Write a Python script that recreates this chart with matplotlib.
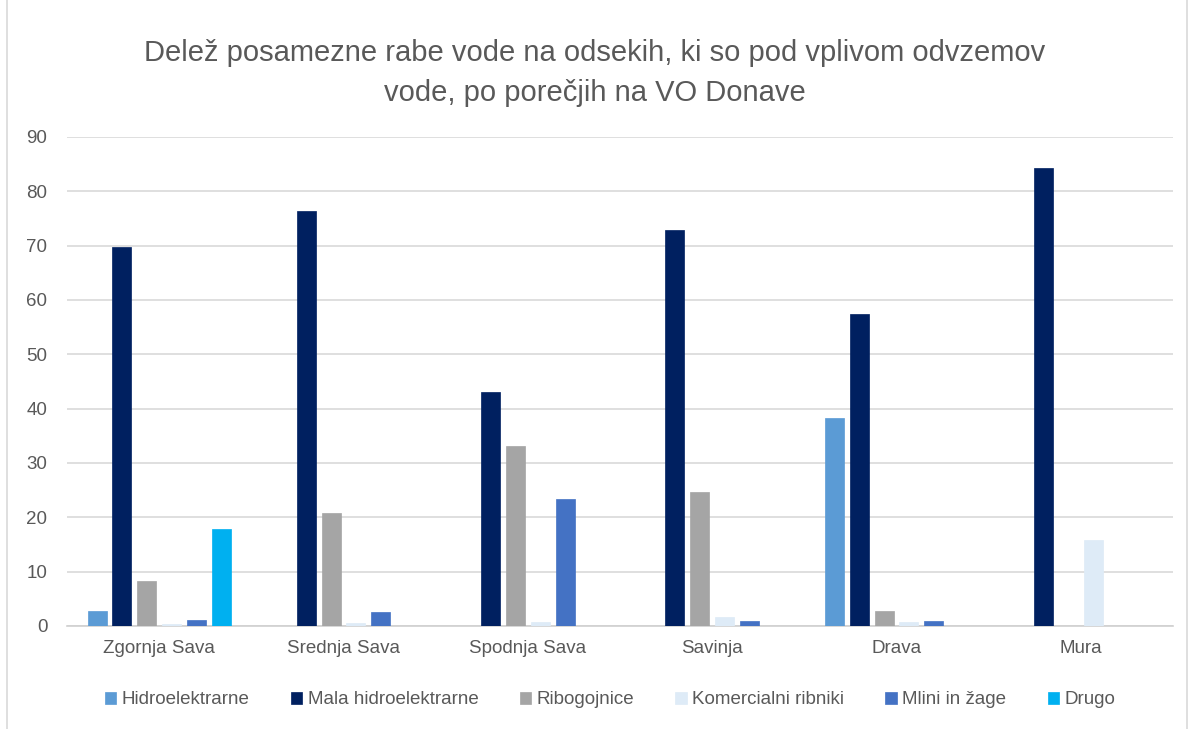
import numpy as np
import matplotlib
matplotlib.use("Agg")
import matplotlib.pyplot as plt
from matplotlib.patches import Rectangle

plt.rcParams['font.family'] = ['Liberation Sans', 'DejaVu Sans']

regions = ["Zgornja Sava", "Srednja Sava", "Spodnja Sava", "Savinja", "Drava", "Mura"]
series = ["Hidroelektrarne", "Mala hidroelektrarne", "Ribogojnice",
          "Komercialni ribniki", "Mlini in žage", "Drugo"]
hidroelektrarne = [2.7, 0, 0, 0, 38.3, 0]
mala_he = [69.8, 76.3, 43.1, 72.9, 57.5, 84.3]
ribogojnice = [8.3, 20.8, 33.1, 24.7, 2.7, 0]
komercialni = [0.3, 0.6, 0.8, 1.6, 0.8, 15.8]
mlini = [1.1, 2.5, 23.4, 1.0, 1.0, 0]
drugo = [17.9, 0, 0, 0, 0, 0]
values = [hidroelektrarne, mala_he, ribogojnice, komercialni, mlini, drugo]
colors = ["#5B9BD5", "#002060", "#A5A5A5", "#DEEBF7", "#4472C4", "#00B0F0"]

TXT = "#595959"

fig = plt.figure(figsize=(11.89, 7.29), dpi=100)
ax = fig.add_axes([0.0563, 0.1413, 0.9303, 0.6708])

x = np.arange(len(regions))
pitch = 0.1345
width = 0.103
for i, (name, vals, col) in enumerate(zip(series, values, colors)):
    ax.bar(x + (i - 2.5) * pitch, vals, width, color=col, label=name,
           edgecolor=col, linewidth=0.5, zorder=3)

ax.set_xlim(-0.5, len(regions) - 0.5)
ax.set_ylim(0, 90)
ax.set_yticks(range(0, 91, 10))
ax.set_xticks(x)
ax.set_xticklabels(regions)
ax.grid(axis="y", color="#D9D9D9", linewidth=1.2, zorder=0)
for side in ["top", "right", "left"]:
    ax.spines[side].set_visible(False)
ax.spines["bottom"].set_color("#D0D0D0")
ax.spines["bottom"].set_linewidth(1.2)
ax.tick_params(axis="both", length=0, labelsize=13.5, colors=TXT, pad=10)
ax.tick_params(axis="y", pad=14)

fig.suptitle("Delež posamezne rabe vode na odsekih, ki so pod vplivom odvzemov\nvode, po porečjih na VO Donave",
             x=0.5, y=0.946, fontsize=21, color=TXT, linespacing=1.55)

fig.legend(loc="center", bbox_to_anchor=(0.513, 0.04), ncol=6, frameon=False,
           fontsize=13.5, handlelength=0.6, handleheight=0.6,
           handletextpad=0.3, columnspacing=2.2, labelcolor=TXT)

# thin border round the chart
fig.patches.append(Rectangle((0.006, -0.01), 0.992, 1.02, transform=fig.transFigure,
                             fill=False, edgecolor="#D9D9D9", linewidth=1.2))

fig.savefig("out.png", dpi=100)
